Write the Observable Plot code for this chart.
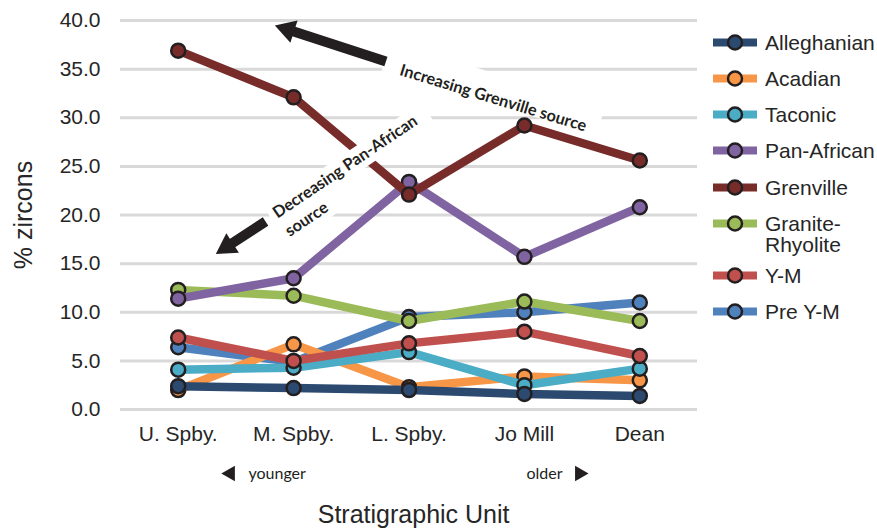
<!DOCTYPE html>
<html><head><meta charset="utf-8">
<script src="https://cdn.jsdelivr.net/npm/d3@7"></script>
<script src="https://cdn.jsdelivr.net/npm/@observablehq/plot@0.6"></script>
<style>
html,body{margin:0;padding:0;background:#fff;}
#wrap{position:relative;width:877px;height:530px;font-family:"Liberation Sans",Arial,sans-serif;}
#legend{position:absolute;left:712px;top:31.5px;}
.row{display:flex;align-items:flex-start;margin-bottom:15.3px;font-size:21px;line-height:21px;color:#262626;white-space:pre;}
.row.two{margin-bottom:10px;}
.row svg{flex:none;margin-right:7px;}
</style></head><body><div id="wrap"><div id="chart"></div><div id="legend"></div></div>
<script>
// Categories (stratigraphic units) and tick values
const units = ["U. Spby.", "M. Spby.", "L. Spby.", "Jo Mill", "Dean"];
const yTicks = [0, 5, 10, 15, 20, 25, 30, 35, 40];

// Series (legend order)
const seriesNames = ["Alleghanian", "Acadian", "Taconic", "Pan-African", "Grenville", "Granite-Rhyolite", "Y-M", "Pre Y-M"];
const legendLabels = ["Alleghanian", "Acadian", "Taconic", "Pan-African", "Grenville", "Granite-\nRhyolite", "Y-M", "Pre Y-M"];
const seriesColors = ["#2c4a70", "#f79646", "#4bacc6", "#8064a2", "#772c2a", "#9bbb59", "#c0504d", "#4f81bd"];

// % zircons per unit (U. Spby., M. Spby., L. Spby., Jo Mill, Dean)
const alleghanian     = [2.4, 2.2, 2.0, 1.6, 1.4];
const acadian         = [2.0, 6.7, 2.3, 3.4, 3.0];
const taconic         = [4.1, 4.3, 5.9, 2.5, 4.2];
const panAfrican      = [11.4, 13.5, 23.4, 15.7, 20.8];
const grenville       = [36.9, 32.1, 22.1, 29.2, 25.6];
const graniteRhyolite = [12.3, 11.7, 9.1, 11.1, 9.1];
const ym              = [7.4, 5.0, 6.8, 8.0, 5.5];
const preYm           = [6.4, 4.9, 9.5, 10.0, 11.0];
const seriesValues = [alleghanian, acadian, taconic, panAfrican, grenville, graniteRhyolite, ym, preYm];

// drawing order, bottom to top
const drawOrder = ["Pre Y-M", "Granite-Rhyolite", "Pan-African", "Grenville", "Acadian", "Taconic", "Y-M", "Alleghanian"];

// Annotations (in data coordinates: x = unit index, y = % zircons)
const annoBoxes = [
  {x1: 1.80, y1: 36.37, x2: 3.661, y2: 29.65, w: 30},
  {x1: 0.799, y1: 19.76, x2: 2.16, y2: 30.6, w: 23},
  {x1: 0.906, y1: 17.89, x2: 1.36, y2: 21.5, w: 23}
];
const annoTexts = [
  {x: 2.730, y: 32.01, text: "Increasing Grenville source", rotate: 17, anchor: "middle"},
  {x: 0.835, y: 20.05, text: "Decreasing Pan-African", rotate: -34, anchor: "start"},
  {x: 0.942, y: 18.18, text: "source", rotate: -34, anchor: "start"}
];
const arrowShafts = [
  {x1: 1.80, y1: 35.78, x2: 0.948, y2: 39.07},
  {x1: 0.757, y1: 19.33, x2: 0.423, y2: 16.75}
];
const arrowHeads = [
  {x: 0.948, y: 39.07, rotate: -72},
  {x: 0.423, y: 16.75, rotate: -123}
];
const ageLabels = [
  {x: 0.609, y: -6.58, text: "younger", anchor: "start"},
  {x: 3.33, y: -6.58, text: "older", anchor: "end"}
];
const ageArrows = [
  {x: 0.452, y: -6.58, rotate: -90},
  {x: 3.478, y: -6.58, rotate: 90}
];
const axisTitles = [
  {x: 2.04, y: -10.8, text: "Stratigraphic Unit", rotate: 0},
  {x: -1.34, y: 20.0, text: "% zircons", rotate: -90}
];

const rows = seriesNames.flatMap((name, s) => seriesValues[s].map((v, i) => ({name, i, v})));
const colorOf = Object.fromEntries(seriesNames.map((n, s) => [n, seriesColors[s]]));

const seriesMarks = drawOrder.flatMap(name => {
  const d = rows.filter(r => r.name === name);
  return [
    Plot.line(d, {x: "i", y: "v", stroke: colorOf[name], strokeWidth: 8.5, strokeLinejoin: "round", strokeLinecap: "butt"}),
    Plot.dot(d, {x: "i", y: "v", r: 7, fill: colorOf[name], stroke: "#231f20", strokeWidth: 2.5})
  ];
});

const annoFont = {fontFamily: "Lato", fontWeight: 700, fontSize: 16.3, fill: "#231f20"};

const chart = Plot.plot({
  width: 877,
  height: 530,
  marginLeft: 120,
  marginRight: 180,
  marginTop: 20,
  marginBottom: 121,
  style: {fontFamily: "'Liberation Sans', Arial, sans-serif", fontSize: "21px", color: "#262626", background: "white"},
  x: {domain: [-0.5, 4.5], ticks: 5, tickFormat: i => units[i], tickSize: 0, tickPadding: 17, label: null},
  y: {domain: [0, 40], ticks: 8, tickFormat: d3.format(".1f"), tickSize: 0, tickPadding: 20, label: null},
  marks: [
    Plot.ruleY(yTicks, {stroke: "#d9d9d9", strokeWidth: 3}),
    ...seriesMarks,
    Plot.link(annoBoxes, {x1: "x1", y1: "y1", x2: "x2", y2: "y2", stroke: "white", strokeWidth: d => d.w, strokeLinecap: "butt"}),
    Plot.link(arrowShafts, {x1: "x1", y1: "y1", x2: "x2", y2: "y2", stroke: "#231f20", strokeWidth: 10, strokeLinecap: "butt"}),
    Plot.dot(arrowHeads, {x: "x", y: "y", symbol: "triangle", r: 8.6, rotate: "rotate", fill: "#231f20", stroke: "none"}),
    Plot.text(annoTexts.filter(d => d.anchor === "middle"), {x: "x", y: "y", text: "text", rotate: 17, textAnchor: "middle", ...annoFont}),
    Plot.text(annoTexts.filter(d => d.anchor === "start"), {x: "x", y: "y", text: "text", rotate: -34, textAnchor: "start", ...annoFont}),
    Plot.text(ageLabels.filter(d => d.anchor === "start"), {x: "x", y: "y", text: "text", textAnchor: "start", fontFamily: "Lato", fontSize: 16, fill: "#231f20"}),
    Plot.text(ageLabels.filter(d => d.anchor === "end"), {x: "x", y: "y", text: "text", textAnchor: "end", fontFamily: "Lato", fontSize: 16, fill: "#231f20"}),
    Plot.dot(ageArrows, {x: "x", y: "y", symbol: "triangle", r: 5.8, rotate: "rotate", fill: "#231f20", stroke: "none"}),
    Plot.text(axisTitles.filter(d => d.rotate === 0), {x: "x", y: "y", text: "text", fontSize: 25, fill: "#262626"}),
    Plot.text(axisTitles.filter(d => d.rotate !== 0), {x: "x", y: "y", text: "text", rotate: -90, fontSize: 25, fill: "#262626"})
  ]
});
document.getElementById("chart").appendChild(chart);

// Legend (line + marker swatch)
const legend = document.getElementById("legend");
seriesNames.forEach((name, s) => {
  const row = document.createElement("div");
  row.className = legendLabels[s].includes("\n") ? "row two" : "row";
  const sw = d3.create("svg").attr("width", 46).attr("height", 21);
  sw.append("line").attr("x1", 1).attr("x2", 45).attr("y1", 10.5).attr("y2", 10.5).attr("stroke", seriesColors[s]).attr("stroke-width", 8);
  sw.append("circle").attr("cx", 23).attr("cy", 10.5).attr("r", 7).attr("fill", seriesColors[s]).attr("stroke", "#231f20").attr("stroke-width", 2.5);
  row.appendChild(sw.node());
  const label = document.createElement("span");
  label.textContent = legendLabels[s];
  row.appendChild(label);
  legend.appendChild(row);
});
</script></body></html>
